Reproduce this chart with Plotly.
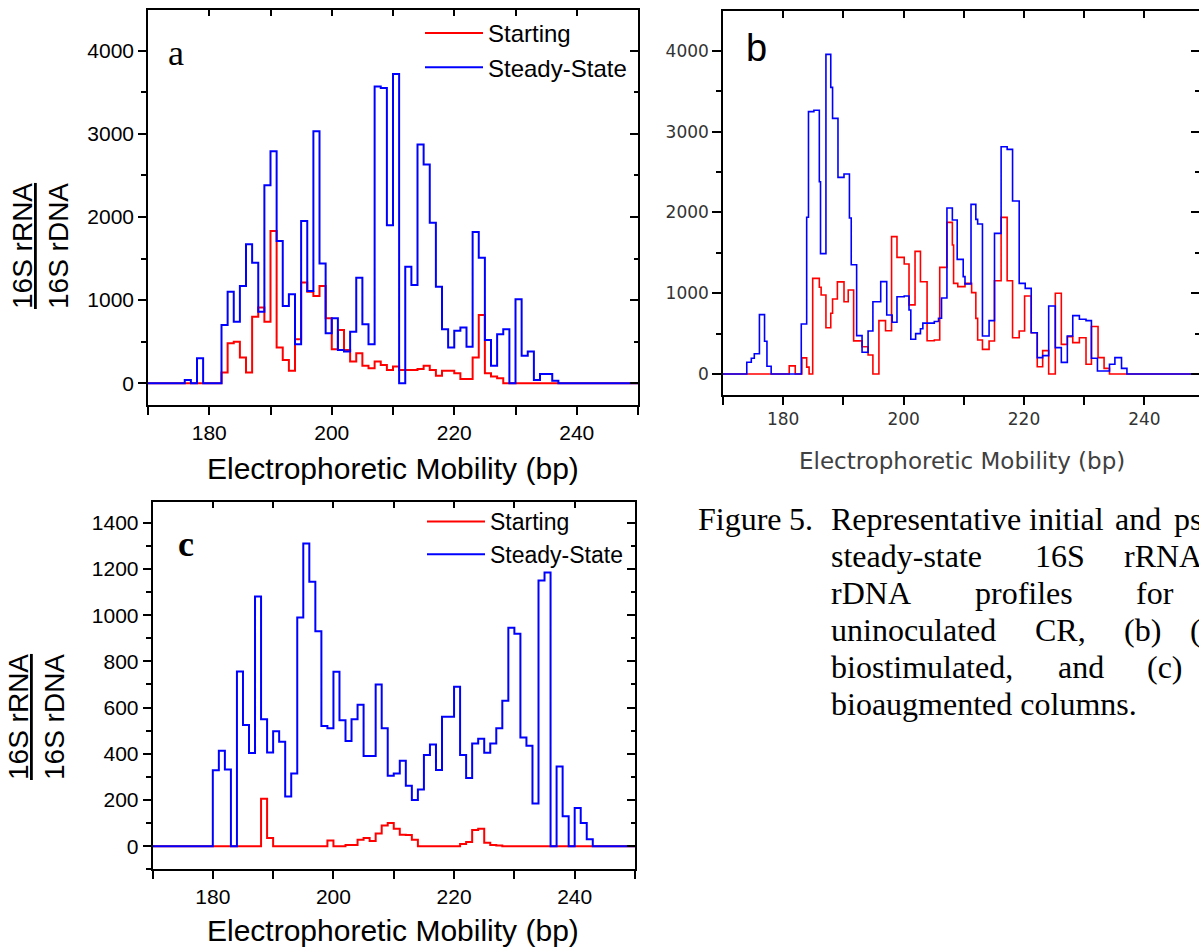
import plotly.graph_objects as go

W, H = 1199, 947

# ---------------- data ----------------
bp = list(range(170, 251))  # bin starts (bp), 1-bp bins

a_starting = [0, 0, 0, 0, 0, 0, 0, 0, 0, 0, 0, 0,
              130, 480, 500, 310, 130, 800, 910, 740, 1830, 430,
              280, 150, 530, 1210, 1100, 1050, 1170, 780, 410, 640,
              400, 260, 360, 210, 180, 260, 220, 160, 200, 160,
              160, 160, 170, 210, 160, 90, 150, 150, 120, 50,
              50, 310, 820, 120, 80, 60,
              0, 0, 0, 0, 0, 0, 0, 0, 0, 0, 0, 0, 0, 0, 0, 0, 0, 0, 0, 0, 0, 0, 0]
a_steady = [0, 0, 0, 0, 0, 0, 40, 0, 300, 0, 0, 0,
            700, 1100, 740, 1170, 1670, 1450, 860, 2380, 2790, 1710,
            930, 1070, 470, 1950, 1110, 3030, 1440, 600, 780, 400,
            380, 620, 1270, 710, 470, 3570, 3550, 1900, 3720, 0,
            1400, 1180, 2870, 2630, 1930, 1160, 650, 430, 630, 670,
            440, 1820, 1510, 520, 210, 590, 650, 0, 1010, 330,
            380, 40, 110, 110, 30,
            0, 0, 0, 0, 0, 0, 0, 0, 0, 0, 0, 0, 0, 0]

b_starting_x = [170, 181.0, 182.0, 183.1, 183.9, 184.3, 184.9, 186.0, 186.3, 187.1,
                187.9, 188.2, 189.0, 190.1, 190.8, 191.7, 193.1, 194.1, 194.9, 195.9,
                197.0, 198.0, 198.9, 200.1, 200.9, 201.9, 202.8, 203.9, 205.1, 206.0,
                207.2, 208.1, 208.3, 209.0, 210.2, 211.3, 212.0, 212.3, 213.1, 214.2,
                215.1, 216.2, 217.2, 218.1, 219.2, 220.1, 221.2, 222.2, 223.1, 224.1,
                225.2, 226.2, 227.2, 228.1, 229.2, 230.3, 231.2, 232.3, 233.3, 234.2, 250]
b_starting = [0, 100, 0, 200, 85, 0, 1184, 1073, 977, 573,
              751, 928, 1140, 895, 1040, 410, 338, 235, 0, 660,
              536, 1700, 1444, 1361, 855, 1518, 1142, 412, 420, 1320,
              1877, 1597, 1122, 1081, 1122, 1007, 688, 420, 305, 408,
              1155, 1939, 1155, 449, 532, 965, 511, 90, 289, 0,
              1000, 367, 462, 388, 449, 120, 587, 202, 70, 0, 0]

b_steady_x = [170, 173.95, 174.7, 175.2, 176.05, 176.9, 177.3, 178.0,
              183.0, 183.9, 184.2, 185.1, 186.0, 186.2, 187.1, 187.9, 188.2, 189.1,
              190.1, 191.0, 191.3, 192.2, 193.1, 194.1, 194.9, 196.2, 197.2, 198.1,
              198.9, 200.1, 200.9, 201.2, 202.0, 202.8, 203.2, 205.1, 205.8, 206.3,
              207.2, 208.1, 208.9, 209.9, 210.2, 211.2, 212.0, 212.3, 213.1, 214.2,
              215.1, 216.2, 217.2, 218.1, 219.2, 220.2, 221.2, 222.2, 223.1, 224.1,
              225.2, 226.2, 227.2, 228.1, 229.2, 230.3, 231.2, 232.2, 234.2, 235.1,
              236.2, 237.1, 250]
b_steady = [0, 145, 195, 250, 735, 405, 95, 0,
            619, 1940, 3247, 3265, 2380, 1490, 3956, 3548, 3164, 2434,
            2475, 1930, 1353, 475, 269, 532, 895, 1143, 730, 640,
            957, 965, 792, 430, 500, 560, 630, 650, 690, 940,
            2055, 1906, 1419, 1205, 1114, 2100, 1914, 1856, 470, 660,
            1741, 2813, 2780, 2141, 1122, 1060, 511, 202, 227, 842,
            326, 144, 470, 722, 677, 660, 194, 37, 120, 202,
            70, 0, 0]

c_starting = [0, 0, 0, 0, 0, 0, 0, 0, 0, 0, 0, 0, 0, 0, 0, 0, 0, 0,
              205, 35,
              0, 0, 0, 0, 0, 0, 0, 0, 0,
              25,
              0, 0, 5, 5, 28, 35, 22, 55, 90, 100,
              75, 50, 48, 28, 0, 0, 0, 0, 0, 0,
              0, 10, 18, 70, 75, 15, 5, 3, 0, 0,
              0, 0, 0, 0, 0, 0, 0, 0, 0, 0, 0, 0, 0, 0, 0, 0, 0, 0, 0, 0, 0]
c_steady = [0, 0, 0, 0, 0, 0, 0, 0, 0, 0,
            329, 413, 332, 0, 756, 525, 403, 1081, 550, 406,
            498, 452, 215, 315, 990, 1310, 1145, 930, 520, 510,
            755, 545, 455, 550, 612, 390, 390, 700, 510, 305,
            315, 370, 262, 200, 245, 395, 440, 330, 560, 560,
            690, 395, 295, 445, 465, 405, 445, 510, 630, 945,
            920, 470, 435, 185, 1150, 1185, 0, 345, 130, 0,
            165, 100, 30, 0, 0, 0, 0, 0, 0, 0, 0]

series_names = ["Starting", "Steady-State"]
x_ticks = [180, 200, 220, 240]

RED = "#ff0000"
BLUE = "#0000ff"
SANS = "Liberation Sans, Arial, sans-serif"
SERIF = "Liberation Serif, Times New Roman, serif"


def fx(p):
    return p / W


def fy(p):
    return 1 - p / H


fig = go.Figure()

# panel a
fig.add_trace(go.Scatter(x=bp, y=a_starting, mode="lines", name=series_names[0],
                         line=dict(color=RED, width=2, shape="hv"),
                         xaxis="x", yaxis="y", legend="legend"))
fig.add_trace(go.Scatter(x=bp, y=a_steady, mode="lines", name=series_names[1],
                         line=dict(color=BLUE, width=2, shape="hv"),
                         xaxis="x", yaxis="y", legend="legend"))
# panel b
fig.add_trace(go.Scatter(x=b_starting_x, y=b_starting, mode="lines", name=series_names[0],
                         line=dict(color=RED, width=1.6, shape="hv"),
                         xaxis="x2", yaxis="y2", showlegend=False))
fig.add_trace(go.Scatter(x=b_steady_x, y=b_steady, mode="lines", name=series_names[1],
                         line=dict(color=BLUE, width=1.6, shape="hv"),
                         xaxis="x2", yaxis="y2", showlegend=False))
# panel c
fig.add_trace(go.Scatter(x=bp, y=c_starting, mode="lines", name=series_names[0],
                         line=dict(color=RED, width=2, shape="hv"),
                         xaxis="x3", yaxis="y3", legend="legend2"))
fig.add_trace(go.Scatter(x=bp, y=c_steady, mode="lines", name=series_names[1],
                         line=dict(color=BLUE, width=2, shape="hv"),
                         xaxis="x3", yaxis="y3", legend="legend2"))

# empty placeholder traces so the frame (top / right) axes get drawn
for xa, ya in [("x4", "y"), ("x", "y4"), ("x5", "y2"), ("x2", "y5"), ("x6", "y3"), ("x3", "y6")]:
    fig.add_trace(go.Scatter(x=[None], y=[None], mode="lines", xaxis=xa, yaxis=ya,
                             showlegend=False, hoverinfo="skip"))


def bottom_x(domain, rng, anchor, font):
    return dict(domain=domain, range=rng, anchor=anchor, showline=True, linecolor="black",
                linewidth=1.5, ticks="outside", ticklen=8, tickwidth=1.5, tickcolor="black",
                tickmode="array", tickvals=x_ticks, ticktext=[str(t) for t in x_ticks],
                minor=dict(tickmode="linear", tick0=170, dtick=10, ticks="outside", ticklen=8,
                           tickwidth=1.5, tickcolor="black", showgrid=False),
                showgrid=False, zeroline=False, tickfont=font, fixedrange=True)


def left_y(domain, rng, anchor, dtick, font, ticklen=8):
    return dict(domain=domain, range=rng, anchor=anchor, showline=True, linecolor="black",
                linewidth=1.5, ticks="outside", ticklen=ticklen, tickwidth=1.5, tickcolor="black",
                tick0=0, dtick=dtick,
                minor=dict(tick0=0, dtick=dtick / 2, ticks="outside", ticklen=5,
                           tickwidth=1.5, tickcolor="black", showgrid=False),
                showgrid=False, zeroline=False, tickfont=font, fixedrange=True)


def top_x(over, anchor, rng):
    return dict(overlaying=over, side="top", anchor=anchor, range=rng, showline=True,
                linecolor="black", linewidth=1.5, ticks="inside", ticklen=7, tickwidth=1.5,
                tickcolor="black", tickmode="linear", tick0=170, dtick=10, showticklabels=False,
                showgrid=False, zeroline=False, fixedrange=True)


def right_y(over, anchor, rng, dtick, line=True):
    return dict(overlaying=over, side="right", anchor=anchor, range=rng, showline=line,
                linecolor="black", linewidth=1.5, ticks="inside", ticklen=8, tickwidth=1.5,
                tickcolor="black", tickmode="linear", tick0=0, dtick=dtick,
                minor=dict(tick0=0, dtick=dtick / 2, ticks="inside", ticklen=4,
                           tickwidth=1.5, tickcolor="black", showgrid=False),
                showticklabels=False, showgrid=False, zeroline=False, fixedrange=True)


font_a = dict(family=SANS, size=21, color="black")
font_b = dict(family="DejaVu Sans, sans-serif", size=17, color="#333333")

rng_a_x = [170, 250]
rng_a_y = [-262, 4495]
rng_b_x = [170, 170 + (W - 723) / 6.02]
rng_b_y = [-260, 4493]
rng_c_x = [170, 250]
rng_c_y = [-100, 1492]

dom_a_x = [fx(148), fx(638)]
dom_a_y = [fy(405), fy(9.5)]
dom_b_x = [fx(723), 1.0]
dom_b_y = [fy(395), fy(11)]
dom_c_x = [fx(152.5), fx(635)]
dom_c_y = [fy(869.3), fy(501.5)]

layout = dict(
    width=W, height=H, margin=dict(l=0, r=0, t=0, b=0),
    paper_bgcolor="white", plot_bgcolor="white", showlegend=True,
    xaxis=bottom_x(dom_a_x, rng_a_x, "y", font_a),
    yaxis=left_y(dom_a_y, rng_a_y, "x", 1000, font_a),
    xaxis2=bottom_x(dom_b_x, rng_b_x, "y2", font_b),
    yaxis2=left_y(dom_b_y, rng_b_y, "x2", 1000, font_b, ticklen=9),
    xaxis3=bottom_x(dom_c_x, rng_c_x, "y3", font_a),
    yaxis3=left_y(dom_c_y, rng_c_y, "x3", 200, font_a),
    xaxis4=top_x("x", "y", rng_a_x),
    yaxis4=right_y("y", "x", rng_a_y, 1000),
    xaxis5=top_x("x2", "y2", rng_b_x),
    yaxis5=right_y("y2", "x2", rng_b_y, 1000, line=False),
    xaxis6=top_x("x3", "y3", rng_c_x),
    yaxis6=right_y("y3", "x3", rng_c_y, 200),
    legend=dict(x=fx(420), y=fy(11), xanchor="left", yanchor="top",
                font=dict(family=SANS, size=24, color="black"),
                bgcolor="rgba(0,0,0,0)", borderwidth=0, itemwidth=58, tracegroupgap=0),
    legend2=dict(x=fx(422), y=fy(500), xanchor="left", yanchor="top",
                 font=dict(family=SANS, size=23, color="black"),
                 bgcolor="rgba(0,0,0,0)", borderwidth=0, itemwidth=58, tracegroupgap=0),
)
fig.update_layout(**layout)


def ann(text, x, y, size, family=SANS, color="black", angle=0, xanchor="center"):
    fig.add_annotation(text=text, x=fx(x), y=fy(y), xref="paper", yref="paper",
                       showarrow=False, xanchor=xanchor, yanchor="middle", textangle=angle,
                       font=dict(family=family, size=size, color=color))


# panel letters
ann("a", 175.5, 53, 36, SERIF)
ann("b", 756, 48, 38, SANS)
ann("<b>c</b>", 186, 544, 36, SERIF)

# axis titles
ytitle = "<u>16S rRNA</u><br>16S rDNA"
ann(ytitle, 40, 246, 28, SANS, angle=-90)
ann(ytitle, 36, 717, 28, SANS, angle=-90)
xtitle = "Electrophoretic Mobility (bp)"
ann(xtitle, 393, 468, 30, SANS)
ann(xtitle, 393, 930, 30, SANS)
ann(xtitle, 962, 461, 23, "DejaVu Sans, sans-serif", color="#404040")

# caption (justified, words placed individually; runs off the right edge as in the source)
caption = [
    (519, [("Figure", 696), ("5.", 787), ("Representative", 829), ("initial", 1027),
           ("and", 1113), ("ps", 1172)]),
    (556, [("steady-state", 829), ("16S", 1033), ("rRNA", 1122)]),
    (593, [("rDNA", 829), ("profiles", 973), ("for", 1134)]),
    (630, [("uninoculated", 829), ("CR,", 1033), ("(b)", 1122), ("(", 1188)]),
    (667, [("biostimulated,", 829), ("and", 1056), ("(c)", 1145)]),
    (704, [("bioaugmented columns.", 829)]),
]
for yline, words in caption:
    for word, xw in words:
        ann(word, xw, yline, 32, SERIF, xanchor="left")

fig.write_html("out.html")
